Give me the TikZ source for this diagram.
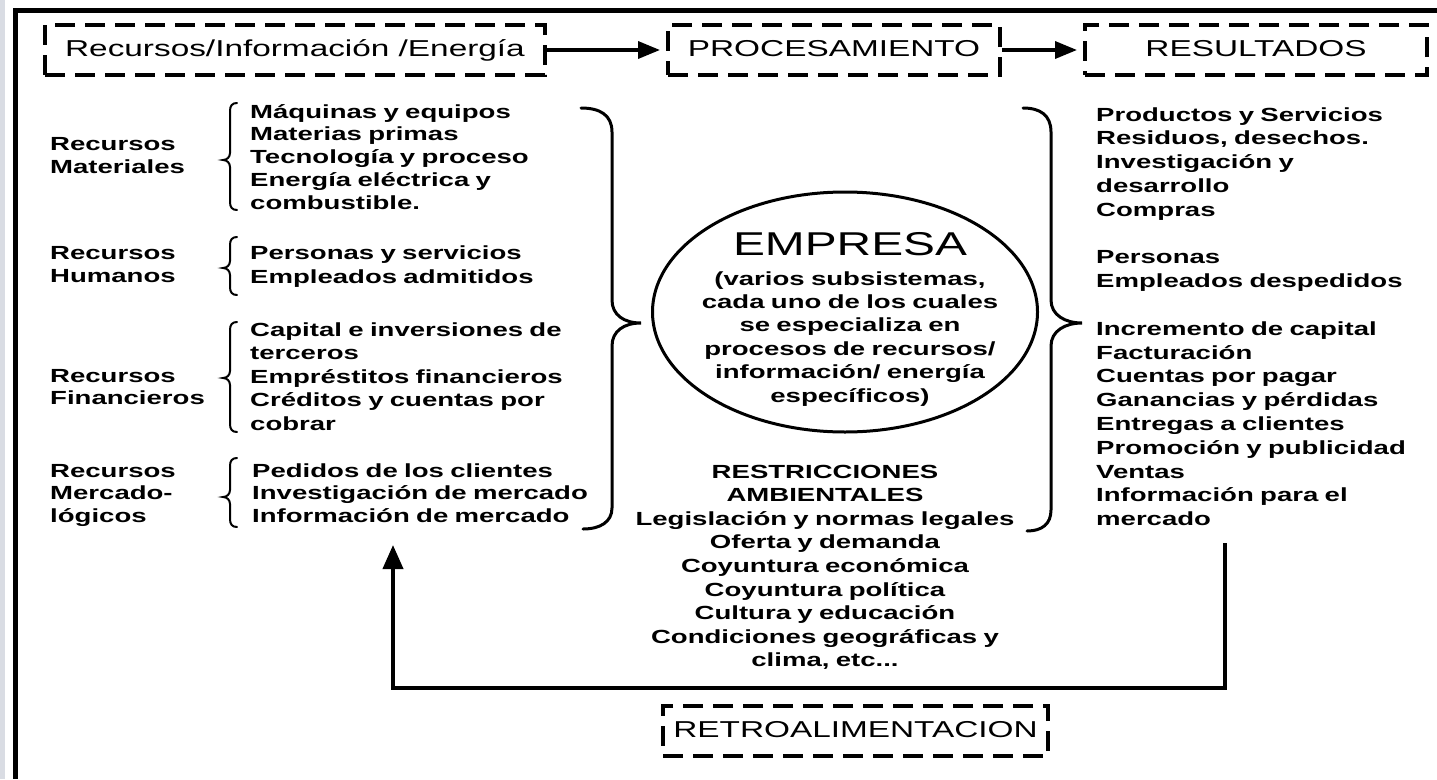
\documentclass[tikz,border=0pt]{standalone}
\usepackage{fontspec}
\setmainfont{Liberation Sans}[FakeStretch=1.45]
\usetikzlibrary{arrows.meta,shapes.geometric}
\definecolor{stripgray}{HTML}{D9DCE3}
\newcommand{\mybrace}[3]{%
\draw[smbr] (237,#1) .. controls (232,#1) and (230,#1+3) .. (230,#1+8) -- (230,#2-7) .. controls (230,#2-3) and (227,#2) .. (223,#2) .. controls (227,#2) and (230,#2+3) .. (230,#2+7) -- (230,#3-8) .. controls (230,#3-3) and (232,#3) .. (237,#3);}
\begin{document}
\begin{tikzpicture}[x=1pt,y=-1pt,
 dbox/.style={draw, line width=4pt, dash pattern=on 20pt off 10pt, inner sep=0pt, minimum height=50pt, text height=16.5pt, text depth=4pt, font=\fontsize{23}{27}\selectfont},
 arr/.style={line width=3.5pt, -{Triangle[length=22pt,width=17pt]}, shorten >=6pt},
 fb/.style={line width=4pt, -{Triangle[length=24pt,width=20pt]}},
 bigbr/.style={line width=3pt, line cap=round},
 smbr/.style={line width=2pt, line cap=round},
 lbl/.style={font=\bfseries\fontsize{19}{#1}\selectfont, inner sep=0pt, anchor=base west, align=left, text width=360pt},
 cbl/.style={font=\bfseries\fontsize{19}{#1}\selectfont, inner sep=0pt, anchor=base, align=center, text width=420pt},
]
\useasboundingbox (0,0) rectangle (1437,779);
\fill[white] (0,0) rectangle (1437,779);
\fill[stripgray] (0,0) rectangle (4.5,779);
\fill (12.5,8) rectangle (1437,12.5);
\fill (12.5,8) rectangle (18,779);

% top boxes
\node[dbox, minimum width=500pt] (b1) at (295,50) {Recursos/Información /Energía};
\node[dbox, minimum width=332pt] (b2) at (834,50) {PROCESAMIENTO};
\node[dbox, minimum width=342pt] (b3) at (1256,50) {RESULTADOS};
\draw[arr] (b1) -- (b2);
\draw[arr] (b2) -- (b3);

% left labels
\node[lbl=23] (lm) at (50,150) {Recursos\\Materiales};
\node[lbl=23] (lh) at (50,259) {Recursos\\Humanos};
\node[lbl=22.5] (lf) at (50,382) {Recursos\\Financieros};
\node[lbl=22.5] (lk) at (50,477) {Recursos\\Mercado-\\lógicos};

% left items
\node[lbl=22.8] (im) at (250,118) {Máquinas y equipos\\Materias primas\\Tecnología y proceso\\Energía eléctrica y\\combustible.};
\node[lbl=24] (ih) at (250,259) {Personas y servicios\\Empleados admitidos};
\node[lbl=23.5] (if) at (250,336) {Capital e inversiones de\\terceros\\Empréstitos financieros\\Créditos y cuentas por\\cobrar};
\node[lbl=22.5] (ik) at (252,477) {Pedidos de los clientes\\Investigación de mercado\\Información de mercado};

\mybrace{103}{160}{210}
\mybrace{237}{268}{295}
\mybrace{322}{378}{432}
\mybrace{458}{497}{527}

% big braces
\draw[bigbr] (581,108) .. controls (600,108) and (612,115) .. (612,132) -- (612,300) .. controls (612,315) and (624,323) .. (641,323) .. controls (624,323) and (612,331) .. (612,346) -- (612,508) .. controls (612,522) and (600,529) .. (583,529);
\draw[bigbr] (1023,108) .. controls (1040,108) and (1051,115) .. (1051,132) -- (1051,300) .. controls (1051,315) and (1065,323) .. (1082,323) .. controls (1065,323) and (1051,331) .. (1051,346) -- (1051,510) .. controls (1051,524) and (1042,531) .. (1027,531);

% center
\node[draw, ellipse, line width=3pt, minimum width=385pt, minimum height=240pt, inner sep=0pt] (emp) at (845,312) {};
\node[font=\fontsize{33}{36}\selectfont, inner sep=0pt, anchor=base] (et) at (850,255) {EMPRESA};
\node[cbl=23.4] (ed) at (850,285) {(varios subsistemas,\\cada uno de los cuales\\se especializa en\\procesos de recursos/\\información/ energía\\específicos)};
\node[cbl=23.6] (rs) at (825,478) {RESTRICCIONES\\AMBIENTALES\\Legislación y normas legales\\Oferta y demanda\\Coyuntura económica\\Coyuntura política\\Cultura y educación\\Condiciones geográficas y\\clima, etc...};

% right column
\node[lbl=23.8] (rc) at (1096,121) {Productos y Servicios\\Residuos, desechos.\\Investigación y\\desarrollo\\Compras\\[23.8pt]Personas\\Empleados despedidos\\[23.8pt]Incremento de capital\\Facturación\\Cuentas por pagar\\Ganancias y pérdidas\\Entregas a clientes\\Promoción y publicidad\\Ventas\\Información para el\\mercado};

% feedback
\node[dbox, minimum width=385pt] (rb) at (855.5,731) {RETROALIMENTACION};
\coordinate (fbs) at (1225,543);
\coordinate (fbc) at (393,688);
\coordinate (fbe) at (393,545);
\draw[fb] (fbs) |- (fbc) -- (fbe);
\end{tikzpicture}
\end{document}
